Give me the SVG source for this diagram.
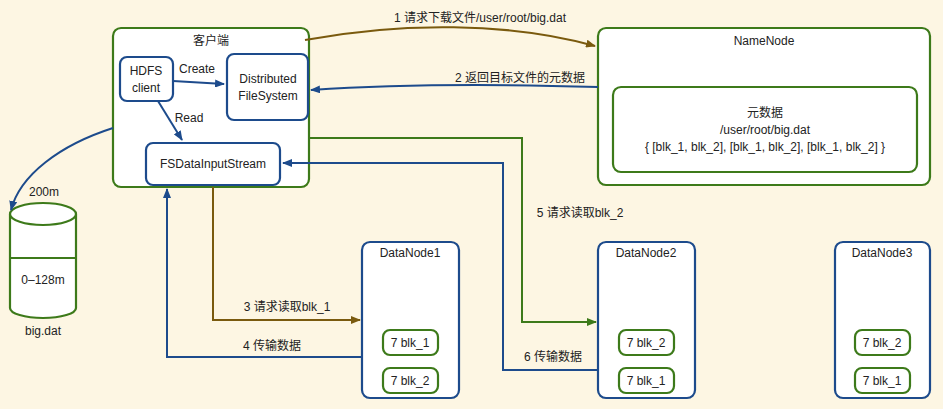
<svg xmlns="http://www.w3.org/2000/svg" width="943" height="409" viewBox="0 0 943 409">
<style>
text{font-family:"Liberation Sans","Noto Sans CJK SC",sans-serif;font-size:12px;fill:#222;text-anchor:middle}
.g{fill:#fff;stroke:#3d7a1a;stroke-width:2.2}
.b{fill:#fff;stroke:#1d4b8c;stroke-width:2.2}
.cb{fill:none;stroke:#1d4b8c;stroke-width:2}
.cn{fill:none;stroke:#7a5a0e;stroke-width:2}
.cg{fill:none;stroke:#3d7a1a;stroke-width:2}
</style>
<defs>
<marker id="ab" markerWidth="10" markerHeight="8" refX="9" refY="4" orient="auto" markerUnits="userSpaceOnUse"><path d="M0,0L10,4L0,8z" fill="#1d4b8c"/></marker>
<marker id="an" markerWidth="10" markerHeight="8" refX="9" refY="4" orient="auto" markerUnits="userSpaceOnUse"><path d="M0,0L10,4L0,8z" fill="#7a5a0e"/></marker>
<marker id="ag" markerWidth="10" markerHeight="8" refX="9" refY="4" orient="auto" markerUnits="userSpaceOnUse"><path d="M0,0L10,4L0,8z" fill="#3d7a1a"/></marker>
</defs>
<rect width="943" height="409" fill="#fdf6e3"/>
<g id="client"><rect class="g" x="113" y="28" width="196" height="159" rx="8"/><text x="211" y="45">客户端</text></g>
<g id="hdfs"><rect class="b" x="120" y="57" width="53" height="44" rx="7"/><text x="146" y="75">HDFS</text><text x="146" y="92">client</text></g>
<g id="dfs"><rect class="b" x="227" y="54" width="81" height="66" rx="7"/><text x="268" y="83">Distributed</text><text x="268" y="100">FileSystem</text></g>
<g id="fsin"><rect class="b" x="146" y="143" width="134" height="42" rx="7"/><text x="213" y="168">FSDataInputStream</text></g>
<g id="bigdat">
<path class="g" d="M10,214 V308 A33,10 0 0 0 76,308 V214"/>
<ellipse class="g" cx="43" cy="214" rx="33" ry="11"/>
<line x1="10" y1="258" x2="76" y2="258" stroke="#3d7a1a" stroke-width="2"/>
<text x="43" y="284">0–128m</text><text x="43" y="335">big.dat</text><text x="44" y="196">200m</text>
</g>
<g id="namenode"><rect class="g" x="598" y="28" width="332" height="157" rx="8"/><text x="764" y="45">NameNode</text>
<rect class="g" x="613" y="87" width="304" height="85" rx="8"/>
<text x="765" y="117">元数据</text><text x="765" y="134">/user/root/big.dat</text><text x="765" y="151">{ [blk_1, blk_2], [blk_1, blk_2], [blk_1, blk_2] }</text></g>
<g id="dn1"><rect class="b" x="362" y="242" width="97" height="156" rx="8"/><text x="410" y="257">DataNode1</text>
<rect class="g" x="383" y="330" width="55" height="25" rx="7"/><text x="410" y="347">7 blk_1</text>
<rect class="g" x="383" y="368" width="55" height="25" rx="7"/><text x="410" y="385">7 blk_2</text></g>
<g id="dn2"><rect class="b" x="598" y="242" width="97" height="156" rx="8"/><text x="646" y="257">DataNode2</text>
<rect class="g" x="619" y="330" width="55" height="25" rx="7"/><text x="646" y="347">7 blk_2</text>
<rect class="g" x="619" y="368" width="55" height="25" rx="7"/><text x="646" y="385">7 blk_1</text></g>
<g id="dn3"><rect class="b" x="835" y="242" width="95" height="156" rx="8"/><text x="882" y="257">DataNode3</text>
<rect class="g" x="855" y="330" width="55" height="25" rx="7"/><text x="882" y="347">7 blk_2</text>
<rect class="g" x="855" y="368" width="55" height="25" rx="7"/><text x="882" y="385">7 blk_1</text></g>
<g id="connectors">
<path class="cb" d="M173,81 L224,84" marker-end="url(#ab)"/><text x="197" y="73">Create</text>
<path class="cb" d="M158,101 L182,140" marker-end="url(#ab)"/><text x="189" y="122">Read</text>
<path class="cb" d="M113,128 C60,145 20,175 11,210" marker-end="url(#ab)"/>
<path class="cn" d="M305,40 C400,22 510,22 595,46" marker-end="url(#an)"/><text x="480" y="22">1 请求下载文件/user/root/big.dat</text>
<path class="cb" d="M598,87 C500,84 400,84 311,90" marker-end="url(#ab)"/><text x="520" y="82">2 返回目标文件的元数据</text>
<path class="cg" d="M309,138 H522 V322 H596" marker-end="url(#ag)"/><text x="580" y="217">5 请求读取blk_2</text>
<path class="cb" d="M598,370 H503 V163 H283" marker-end="url(#ab)"/><text x="553" y="361">6 传输数据</text>
<path class="cn" d="M213,187 V320 H360" marker-end="url(#an)"/><text x="287" y="311">3 请求读取blk_1</text>
<path class="cb" d="M362,357 H167 V189" marker-end="url(#ab)"/><text x="272" y="350">4 传输数据</text>
</g>
</svg>
